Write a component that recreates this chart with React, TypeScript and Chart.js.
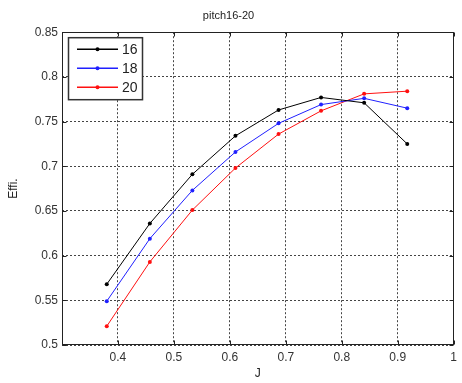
import React, { useEffect, useRef } from "react";
import { Chart, registerables } from "chart.js";
Chart.register(...registerables);

const jValues = [0.38, 0.457, 0.533, 0.61, 0.687, 0.763, 0.84, 0.917];
const effi16 = [0.568, 0.636, 0.691, 0.734, 0.763, 0.777, 0.771, 0.725];
const effi18 = [0.549, 0.619, 0.673, 0.716, 0.748, 0.769, 0.776, 0.765];
const effi20 = [0.521, 0.593, 0.651, 0.698, 0.736, 0.762, 0.781, 0.784];
const seriesLabels = ["16", "18", "20"];
const seriesColors = ["#000000", "#2020ff", "#ff1010"];
const xTicks = [0.3, 0.4, 0.5, 0.6, 0.7, 0.8, 0.9, 1.0];
const yTicks = [0.5, 0.55, 0.6, 0.65, 0.7, 0.75, 0.8, 0.85];

const FONT = "'Liberation Sans', Arial, sans-serif";

const boxAndLegend = {
  id: "boxAndLegend",
  afterDraw(chart: any) {
    const { ctx, chartArea, scales } = chart;
    const L = Math.round(chartArea.left) + 0.5;
    const T = Math.round(chartArea.top) + 0.5;
    const R = Math.round(chartArea.right) - 0.5;
    const B = Math.round(chartArea.bottom) - 0.5;
    ctx.save();
    ctx.strokeStyle = "#222";
    ctx.lineWidth = 1;
    ctx.setLineDash([]);
    ctx.strokeRect(L, T, R - L, B - T);
    // inward tick marks
    ctx.beginPath();
    scales.x.ticks.forEach((t: any) => {
      const x = Math.round(scales.x.getPixelForValue(t.value)) + 0.5;
      ctx.moveTo(x, B);
      ctx.lineTo(x, B - 4);
      ctx.moveTo(x, T);
      ctx.lineTo(x, T + 4);
    });
    scales.y.ticks.forEach((t: any) => {
      const y = Math.round(scales.y.getPixelForValue(t.value)) + 0.5;
      ctx.moveTo(L, y);
      ctx.lineTo(L + 4, y);
      ctx.moveTo(R, y);
      ctx.lineTo(R - 4, y);
    });
    ctx.stroke();
    // legend
    const lx = chartArea.left + 6;
    const ly = chartArea.top + 5;
    const lw = 74;
    const lh = 62;
    ctx.fillStyle = "#fff";
    ctx.fillRect(lx, ly, lw, lh);
    ctx.lineWidth = 1.5;
    ctx.strokeStyle = "#333";
    ctx.strokeRect(lx + 0.5, ly + 0.5, lw, lh);
    chart.data.datasets.forEach((ds: any, i: number) => {
      const y = ly + 12 + i * 19;
      ctx.strokeStyle = ds.borderColor;
      ctx.lineWidth = 1.5;
      ctx.beginPath();
      ctx.moveTo(lx + 9, y);
      ctx.lineTo(lx + 50, y);
      ctx.stroke();
      ctx.fillStyle = ds.borderColor;
      ctx.beginPath();
      ctx.arc(lx + 29.5, y, 2, 0, Math.PI * 2);
      ctx.fill();
      ctx.fillStyle = "#222";
      ctx.font = "14px " + FONT;
      ctx.textBaseline = "middle";
      ctx.textAlign = "left";
      ctx.fillText(ds.label, lx + 54, y + 1);
    });
    ctx.restore();
  },
};

export default function App() {
  const ref = useRef<HTMLCanvasElement | null>(null);
  useEffect(() => {
    document.body.style.margin = "0";
    const series = [effi16, effi18, effi20];
    const chart = new Chart(ref.current as HTMLCanvasElement, {
      type: "line",
      data: {
        datasets: series.map((s, i) => ({
          label: seriesLabels[i],
          data: s.map((v, k) => ({ x: jValues[k], y: v })),
          borderColor: seriesColors[i],
          backgroundColor: seriesColors[i],
          borderWidth: 1,
          pointRadius: 2,
          pointBorderWidth: 0,
          tension: 0,
        })),
      },
      options: {
        animation: false,
        responsive: false,
        maintainAspectRatio: false,
        layout: { padding: { left: 0, right: 5, top: 0, bottom: 0 } },
        plugins: {
          legend: { display: false },
          tooltip: { enabled: false },
          title: {
            display: true,
            text: "pitch16-20",
            color: "#222",
            font: { family: FONT, size: 11, weight: "normal" },
            padding: { top: 9, bottom: 10 },
          },
        },
        scales: {
          x: {
            type: "linear",
            min: 0.3,
            max: 1.0,
            afterBuildTicks(scale: any) {
              scale.ticks = xTicks.map((v) => ({ value: v }));
            },
            afterFit(scale: any) {
              scale.height = 38;
            },
            ticks: {
              color: "#333",
              font: { family: FONT, size: 12 },
              padding: 5,
              maxRotation: 0,
              callback: (v: any) => (Math.abs(v - 0.3) < 1e-9 ? "" : String(Math.round(v * 10) / 10)),
            },
            grid: {
              color: "#444",
              lineWidth: 1,
              drawTicks: false,
            },
            border: { display: false, dash: [2, 2] },
            title: {
              display: true,
              text: "J",
              color: "#222",
              font: { family: FONT, size: 12 },
              padding: { top: 0, bottom: 2 },
            },
          },
          y: {
            type: "linear",
            min: 0.5,
            max: 0.85,
            afterBuildTicks(scale: any) {
              scale.ticks = yTicks.map((v) => ({ value: v }));
            },
            afterFit(scale: any) {
              scale.width = 62;
            },
            ticks: {
              color: "#333",
              font: { family: FONT, size: 12 },
              padding: 4,
              callback: (v: any) => String(Math.round(v * 100) / 100),
            },
            grid: {
              color: "#444",
              lineWidth: 1,
              drawTicks: false,
            },
            border: { display: false, dash: [2, 2] },
            title: {
              display: true,
              text: "Effi.",
              color: "#222",
              font: { family: FONT, size: 12 },
              padding: { top: 6, bottom: 0 },
            },
          },
        },
      },
      plugins: [boxAndLegend],
    } as any);
    return () => chart.destroy();
  }, []);
  return (
    <div style={{ width: 462, height: 383, background: "#fff" }}>
      <canvas ref={ref} width={462} height={383} />
    </div>
  );
}
